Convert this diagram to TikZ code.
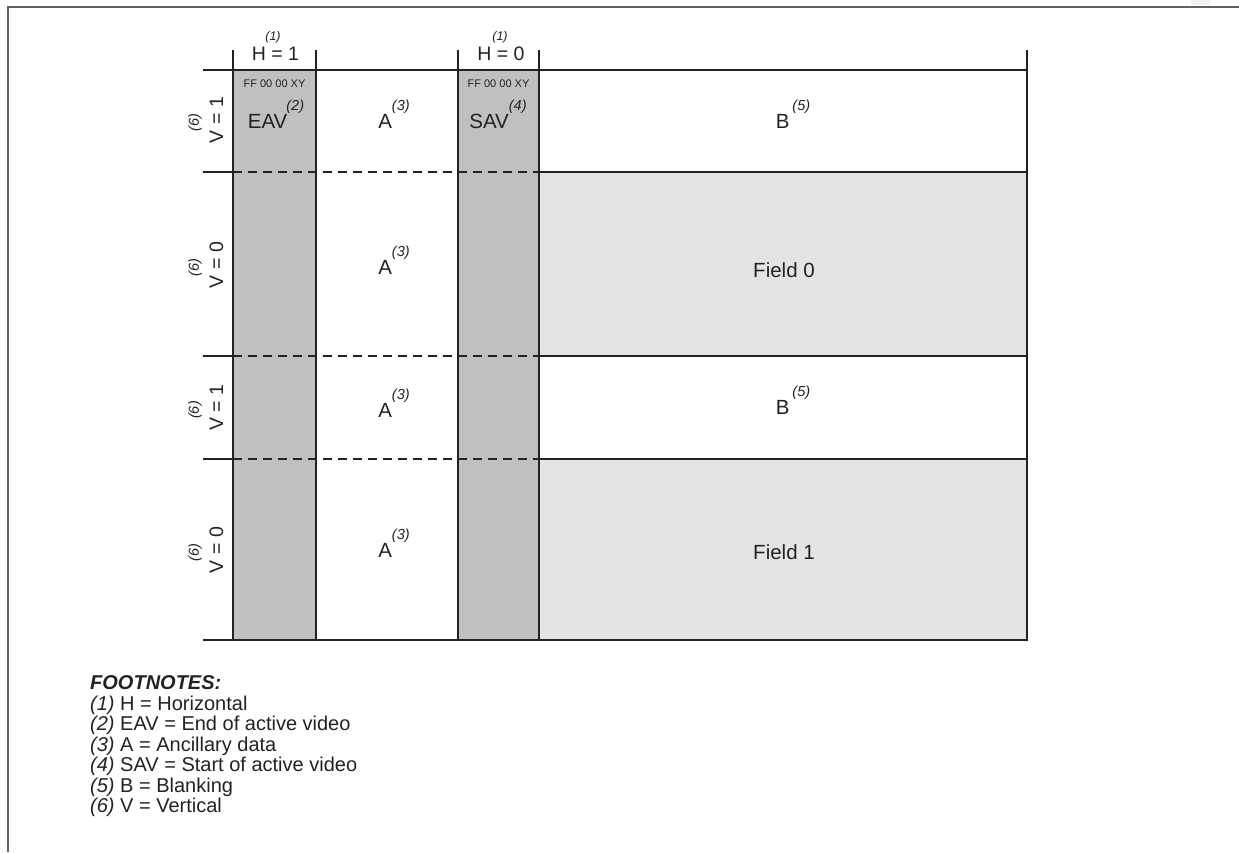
\documentclass[tikz,border=0pt]{standalone}
\usepackage{fontspec}
\setmainfont{Liberation Sans}
\definecolor{syncgray}{HTML}{C0C0C0}
\definecolor{fieldgray}{HTML}{E4E4E4}
\definecolor{inkline}{HTML}{222222}
\definecolor{framegray}{HTML}{606060}
% raised italic footnote reference
\newcommand\fnmark[1]{\raisebox{17.5pt}{\fontsize{14.5}{14.5}\selectfont\itshape(#1)}}
\newcommand\cellfont{\fontsize{20.5}{22}\selectfont}
\begin{document}
\begin{tikzpicture}[x=1pt,y=-1pt,
  gridline/.style={line width=2.3pt, draw=inkline},
  dashline/.style={gridline, dash pattern=on 9pt off 6pt},
  framestyle/.style={line width=2pt, draw=framegray},
  celltext/.style={inner sep=0pt, anchor=base, font=\cellfont, text=inkline},
  headtext/.style={inner sep=0pt, anchor=base, font=\fontsize{19.5}{21}\selectfont, text=inkline},
  codetext/.style={inner sep=0pt, font=\fontsize{11}{12}\selectfont, text=inkline},
  marktext/.style={inner sep=0pt, font=\fontsize{12.5}{13}\selectfont\itshape, text=inkline},
  vlabel/.style={headtext, rotate=90},
  vmark/.style={inner sep=0pt, font=\fontsize{14.5}{14.5}\selectfont\itshape, text=inkline, rotate=90},
  notetext/.style={inner sep=0pt, anchor=west, font=\fontsize{20}{21}\selectfont, text=inkline}]
\useasboundingbox (0,0) rectangle (1239,852);

% shaded timing-reference columns and active field areas
\fill[syncgray] (233,70) rectangle (316,640);
\fill[syncgray] (458,70) rectangle (539,640);
\fill[fieldgray] (539,172) rectangle (1027,356);
\fill[fieldgray] (539,459) rectangle (1027,640);
\fill[black!6] (1191,0) rectangle (1210,5);

% outer frame
\draw[framestyle] (1239,6.5) -- (8,6.5) -- (8,852);

% horizontal boundaries
\draw[gridline] (203,70) -- (1027,70);
\draw[gridline] (203,640) -- (1027,640);
\foreach \yy in {172,356,459}{
  \draw[gridline] (203,\yy) -- (233,\yy);
  \draw[dashline] (233,\yy) -- (539,\yy);
  \draw[gridline] (539,\yy) -- (1027,\yy);
}

% vertical boundaries
\foreach \xx in {233,316,458,539,1027}{
  \draw[gridline] (\xx,50) -- (\xx,641);
}

% column headings
\node[headtext] (h1) at (275.5,60) {H = 1};
\node[marktext] (h1m) at (273,37) {(1)};
\node[headtext] (h0) at (501,60) {H = 0};
\node[marktext] (h0m) at (500,37) {(1)};

% first row (vertical blanking)
\node[codetext] (eavcode) at (274.5,84) {FF 00 00 XY};
\node[codetext] (savcode) at (498.5,84) {FF 00 00 XY};
\node[celltext] (eav) at (276,128) {EAV\kern-1pt\fnmark{2}};
\node[celltext] (anc1) at (394,128) {A\fnmark{3}};
\node[celltext] (sav) at (498,128) {SAV\fnmark{4}};
\node[celltext] (blank1) at (793,128) {B\kern3pt\fnmark{5}};

% field 0
\node[celltext] (anc2) at (394,274) {A\fnmark{3}};
\node[celltext] (field0) at (784,277) {Field 0};

% second vertical blanking
\node[celltext] (anc3) at (394,417) {A\fnmark{3}};
\node[celltext] (blank2) at (793,414) {B\kern3pt\fnmark{5}};

% field 1
\node[celltext] (anc4) at (394,557) {A\fnmark{3}};
\node[celltext] (field1) at (784,559) {Field 1};

% row labels
\node[vlabel] (v1) at (223,120) {V = 1};
\node[vmark] (v1m) at (195,122.5) {(6)};
\node[vlabel] (v2) at (223,265) {V = 0};
\node[vmark] (v2m) at (195,267.5) {(6)};
\node[vlabel] (v3) at (223,407.5) {V = 1};
\node[vmark] (v3m) at (195,410) {(6)};
\node[vlabel] (v4) at (223,550) {V = 0};
\node[vmark] (v4m) at (195,552.5) {(6)};

% footnotes
\node[notetext, font=\fontsize{20}{21}\selectfont\bfseries\itshape] (fnhead) at (90,683) {FOOTNOTES:};
\node[notetext] (fn1) at (90,705) {\textit{(1)} H = Horizontal};
\node[notetext] (fn2) at (90,725.5) {\textit{(2)} EAV = End of active video};
\node[notetext] (fn3) at (90,746) {\textit{(3)} A = Ancillary data};
\node[notetext] (fn4) at (90,766.5) {\textit{(4)} SAV = Start of active video};
\node[notetext] (fn5) at (90,787) {\textit{(5)} B = Blanking};
\node[notetext] (fn6) at (90,807.5) {\textit{(6)} V = Vertical};
\end{tikzpicture}
\end{document}
